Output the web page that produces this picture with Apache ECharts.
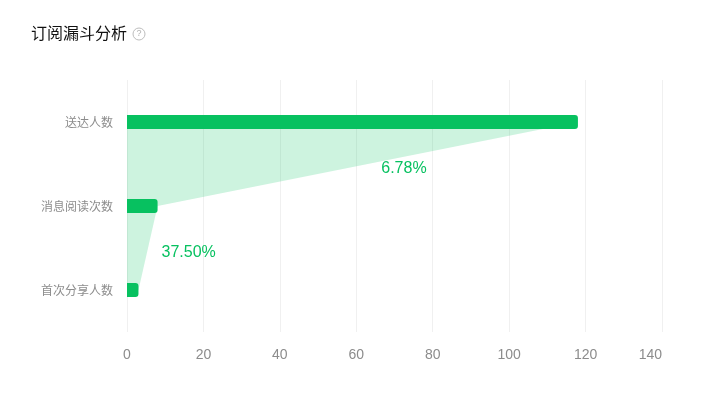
<!DOCTYPE html>
<html>
<head>
<meta charset="utf-8">
<style>html,body{margin:0;padding:0;background:#fff}#c{width:711px;height:394px}</style>
<script src="https://cdn.jsdelivr.net/npm/echarts@6/dist/echarts.min.js"></script>
</head>
<body>
<div id="c"></div>
<script>
const titleText = '订阅漏斗分析';
const categories = ['送达人数', '消息阅读次数', '首次分享人数'];
const values = [118, 8, 3];
const rates = ['6.78%', '37.50%'];
const tickMax = 140;
const tickStep = 20;
const GREEN = '#07c160';

const chart = echarts.init(document.getElementById('c'), null, {renderer: 'canvas'});

function renderFunnel(params, api) {
  const i = params.dataIndex;
  const a = api.value(0), b = api.value(1);
  const p0 = api.coord([0, i]);
  const p1 = api.coord([a, i]);
  const p2 = api.coord([b, i + 1]);
  const p3 = api.coord([0, i + 1]);
  const midX = (p1[0] + p2[0]) / 2;
  const midY = (p1[1] + p2[1]) / 2;
  return {
    type: 'group',
    children: [
      {type: 'polygon', shape: {points: [p0, p1, p2, p3]}, style: {fill: 'rgba(7,193,96,0.2)'}},
      {type: 'text', x: midX + 13.5, y: midY + 4.5, style: {
        text: rates[i], fill: GREEN, font: '16px "Liberation Sans", Arial, sans-serif',
        textAlign: 'left', textVerticalAlign: 'middle'
      }}
    ]
  };
}

chart.setOption({
  animation: false,
  backgroundColor: '#fff',
  title: {
    text: titleText, left: 26, top: 20,
    textStyle: {fontSize: 16, fontWeight: 'normal', color: '#111', fontFamily: '"Noto Sans CJK SC", sans-serif'}
  },
  graphic: [
    {type: 'circle', shape: {cx: 139, cy: 34, r: 6}, style: {fill: '#fff', stroke: '#bdbdbd', lineWidth: 1}},
    {type: 'text', x: 139, y: 34, style: {text: '?', fill: '#b0b0b0', font: '9px "Liberation Sans", Arial, sans-serif', textAlign: 'center', textVerticalAlign: 'middle'}}
  ],
  grid: {left: 127, right: 49, top: 80, bottom: 62},
  xAxis: {
    type: 'value', min: 0, max: tickMax, interval: tickStep,
    axisLine: {show: false}, axisTick: {show: false},
    axisLabel: {color: '#8c8c8c', fontSize: 14, margin: 16, fontFamily: '"Liberation Sans", Arial, sans-serif', alignMaxLabel: 'right'},
    splitLine: {show: true, lineStyle: {color: '#f0f0f0', width: 1}}
  },
  yAxis: {
    type: 'category', data: categories, inverse: true,
    axisLine: {show: false}, axisTick: {show: false}, splitLine: {show: false},
    axisLabel: {color: '#8c8c8c', fontSize: 12, margin: 14, fontFamily: '"Noto Sans CJK SC", sans-serif'}
  },
  series: [
    {
      type: 'custom', renderItem: renderFunnel, z: 1, silent: true,
      encode: {x: [0, 1]},
      data: rates.map((r, i) => [values[i], values[i + 1]])
    },
    {
      type: 'bar', data: values, barWidth: 14, z: 2,
      itemStyle: {color: GREEN, borderRadius: [0, 3, 3, 0]}
    }
  ]
});
</script>
</body>
</html>
